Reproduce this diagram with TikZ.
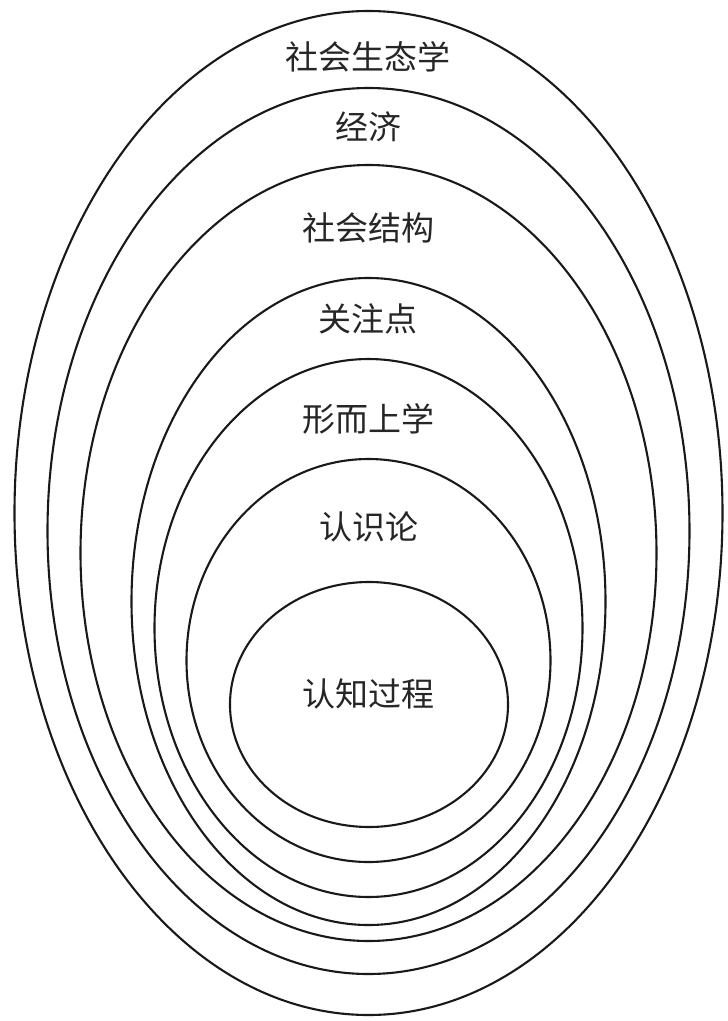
\documentclass[tikz,border=0pt]{standalone}
\usepackage{fontspec}
\newfontfamily\cjk{Noto Sans CJK SC}
\usetikzlibrary{shapes.geometric}
\begin{document}
\begin{tikzpicture}[x=1pt,y=-1pt,
  ring/.style={draw=black!90,line width=2.1pt,ellipse,inner sep=0pt},
  lbl/.style={font=\cjk\fontsize{33}{33}\selectfont,text=black!85,inner sep=0pt}]
\useasboundingbox (0,0) rectangle (728,1021);
\node[ring,minimum width=708pt,minimum height=1004pt] (e1) at (368.5,513) {};
\node[ring,minimum width=642pt,minimum height=886pt] (e2) at (368.5,531) {};
\node[ring,minimum width=576pt,minimum height=776pt] (e3) at (368.5,553) {};
\node[ring,minimum width=474pt,minimum height=647pt] (e4) at (368.5,601.5) {};
\node[ring,minimum width=428pt,minimum height=538pt] (e5) at (368.5,628) {};
\node[ring,minimum width=364pt,minimum height=403pt] (e6) at (368.5,660.5) {};
\node[ring,minimum width=278pt,minimum height=245pt] (e7) at (369,704.5) {};
\node[lbl] (t1) at (368,57) {社会生态学};
\node[lbl] (t2) at (368,127) {经济};
\node[lbl] (t3) at (368,228) {社会结构};
\node[lbl] (t4) at (368,319) {关注点};
\node[lbl] (t5) at (368,419) {形而上学};
\node[lbl] (t6) at (369,527) {认识论};
\node[lbl] (t7) at (368,694) {认知过程};
\end{tikzpicture}
\end{document}
